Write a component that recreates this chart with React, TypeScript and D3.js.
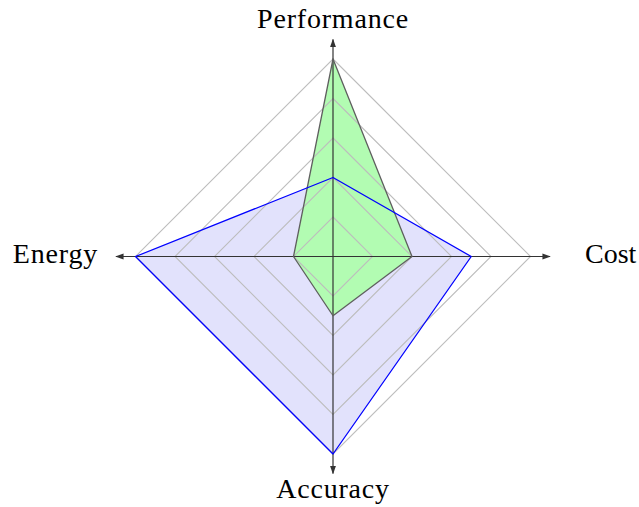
import React from "react";
import * as d3 from "d3";

const axes = ["Performance", "Cost", "Accuracy", "Energy"];
const gridLevels = [1, 2, 3, 4, 5];
const seriesGreen = [5, 2, 1.5, 1];
const seriesBlue = [2, 3.5, 5, 5];

const W = 639;
const H = 507;
const cx = 333;
const cy = 256.5;
const R = 197.5;
const axisLen = 217;

const r = d3.scaleLinear().domain([0, 5]).range([0, R]);
const angle = (i: number) => (i * Math.PI * 2) / axes.length;

const radial = d3
  .lineRadial<number>()
  .angle((_, i) => angle(i))
  .radius((d) => r(d))
  .curve(d3.curveLinearClosed);

export default function App() {
  const labelPos = [
    { x: cx, y: 28, anchor: "middle", ls: 0.8 },
    { x: 585, y: 263, anchor: "start", ls: 0 },
    { x: cx, y: 498, anchor: "middle", ls: 0.8 },
    { x: 98, y: 263, anchor: "end", ls: 0.8 },
  ];
  return (
    <svg width={W} height={H} style={{ position: "absolute", left: 0, top: 0 }}>
      <defs>
        <marker id="arr" viewBox="0 0 10 10" refX="9" refY="5" markerWidth="7" markerHeight="7" orient="auto">
          <path d="M0,1.5 L10,5 L0,8.5 z" fill="#333" />
        </marker>
      </defs>
      <g transform={`translate(${cx},${cy})`}>
        <path d={radial(seriesBlue) || ""} fill="rgb(226,226,252)" stroke="none" />
        <path d={radial(seriesGreen) || ""} fill="rgb(178,252,178)" stroke="none" />
        {gridLevels.map((l) => (
          <path
            key={l}
            d={radial(axes.map(() => l)) || ""}
            fill="none"
            stroke="#bdbdbd"
            strokeWidth={1.1}
          />
        ))}
        {axes.map((a, i) => {
          const ang = angle(i);
          return (
            <line
              key={a}
              x1={0}
              y1={0}
              x2={Math.sin(ang) * axisLen}
              y2={-Math.cos(ang) * axisLen}
              stroke="#333"
              strokeWidth={1.2}
              markerEnd="url(#arr)"
            />
          );
        })}
        <path d={radial(seriesGreen) || ""} fill="none" stroke="#5f5f5f" strokeWidth={1.3} strokeLinejoin="round" />
        <path d={radial(seriesBlue) || ""} fill="none" stroke="#0000ff" strokeWidth={1.3} strokeLinejoin="round" />
      </g>
      {axes.map((a, i) => (
        <text
          key={a}
          x={labelPos[i].x}
          y={labelPos[i].y}
          textAnchor={labelPos[i].anchor as any}
          fontFamily="'Liberation Serif', 'DejaVu Serif', serif"
          fontSize={28}
          letterSpacing={labelPos[i].ls}
          fill="#000"
        >
          {a}
        </text>
      ))}
    </svg>
  );
}
